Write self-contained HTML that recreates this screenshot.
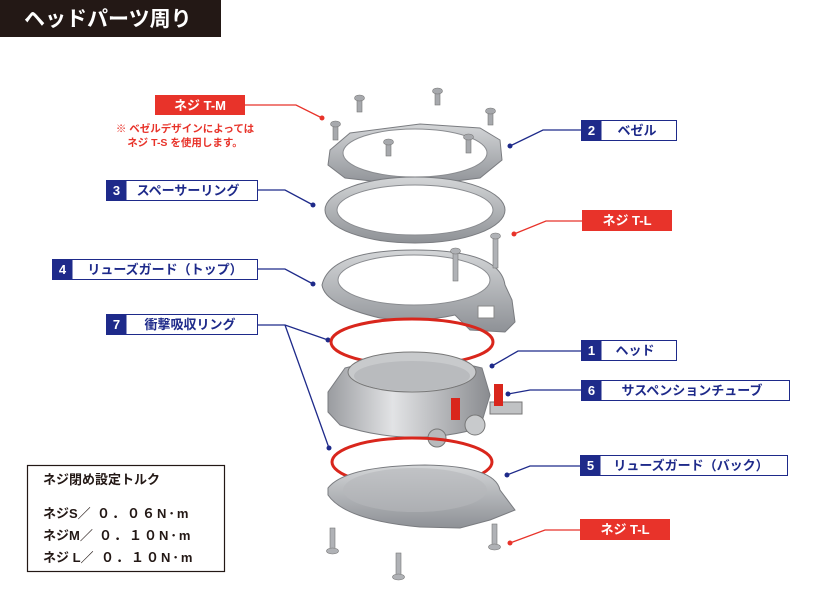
<!DOCTYPE html>
<html><head><meta charset="utf-8"><style>
html,body{margin:0;padding:0;background:#fff;width:840px;height:600px;overflow:hidden}
svg{display:block}
text{font-family:"Liberation Sans","Noto Sans CJK JP",sans-serif}
</style></head><body>
<svg width="840" height="600" viewBox="0 0 840 600" xmlns="http://www.w3.org/2000/svg">
<defs>
<linearGradient id="m" x1="0" y1="0" x2="0" y2="1"><stop offset="0" stop-color="#d4d6d8"/><stop offset="1" stop-color="#8e9196"/></linearGradient>
<linearGradient id="h" x1="0" y1="0" x2="1" y2="0"><stop offset="0" stop-color="#9a9ca0"/><stop offset="0.4" stop-color="#e2e3e5"/><stop offset="1" stop-color="#8a8c90"/></linearGradient>
</defs>
<rect x="0" y="0" width="221" height="37" fill="#231815"/>
<text x="24" y="26" font-size="21" font-weight="bold" fill="#fff">ヘッドパーツ周り</text>

<g fill="none" stroke-width="1.3">
<polyline stroke="#e8332a" points="245,105 296,105 322,118"/>
<polyline stroke="#1e2a8a" points="581,130 543,130 510,146"/>
<polyline stroke="#e8332a" points="582,221 546,221 514,234"/>
<polyline stroke="#1e2a8a" points="258,190 285,190 313,205"/>
<polyline stroke="#1e2a8a" points="258,269 285,269 313,284"/>
<polyline stroke="#1e2a8a" points="258,325 285,325 328,340"/>
<polyline stroke="#1e2a8a" points="285,325 329,448"/>
<polyline stroke="#1e2a8a" points="581,351 518,351 492,366"/>
<polyline stroke="#1e2a8a" points="581,390 530,390 508,394"/>
<polyline stroke="#1e2a8a" points="580,466 530,466 507,475"/>
<polyline stroke="#e8332a" points="580,530 545,530 510,543"/>
</g>
<g>
<circle cx="322" cy="118" r="2.5" fill="#e8332a"/>
<circle cx="510" cy="146" r="2.5" fill="#1e2a8a"/>
<circle cx="514" cy="234" r="2.5" fill="#e8332a"/>
<circle cx="313" cy="205" r="2.5" fill="#1e2a8a"/>
<circle cx="313" cy="284" r="2.5" fill="#1e2a8a"/>
<circle cx="328" cy="340" r="2.5" fill="#1e2a8a"/>
<circle cx="329" cy="448" r="2.5" fill="#1e2a8a"/>
<circle cx="492" cy="366" r="2.5" fill="#1e2a8a"/>
<circle cx="508" cy="394" r="2.5" fill="#1e2a8a"/>
<circle cx="507" cy="475" r="2.5" fill="#1e2a8a"/>
<circle cx="510" cy="543" r="2.5" fill="#e8332a"/>
</g>

<g fill="#a7a9ad" stroke="#777" stroke-width="0.6">
<rect x="357" y="100" width="5" height="12"/><ellipse cx="359.5" cy="98" rx="5" ry="3"/>
<rect x="435" y="93" width="5" height="12"/><ellipse cx="437.5" cy="91" rx="5" ry="3"/>
<rect x="488" y="113" width="5" height="12"/><ellipse cx="490.5" cy="111" rx="5" ry="3"/>
<rect x="333" y="126" width="5" height="14"/><ellipse cx="335.5" cy="124" rx="5" ry="3"/>
</g>
<path d="M330,150 L350,133 L420,124 L480,128 L500,140 L502,160 L480,178 L415,186 L345,178 L328,165 Z" fill="url(#m)" stroke="#7a7c80"/>
<ellipse cx="415" cy="153" rx="72" ry="24" fill="#fff" stroke="#8a8c90"/>
<g fill="#a7a9ad" stroke="#777" stroke-width="0.6">
<rect x="386" y="144" width="5" height="12"/><ellipse cx="388.5" cy="142" rx="5" ry="3"/>
<rect x="466" y="139" width="5" height="14"/><ellipse cx="468.5" cy="137" rx="5" ry="3"/>
</g>
<ellipse cx="415" cy="210" rx="90" ry="33" fill="url(#m)" stroke="#7a7c80"/>
<ellipse cx="415" cy="210" rx="78" ry="25" fill="#fff" stroke="#8a8c90"/>
<path d="M322,285 Q330,250 415,250 Q500,250 505,285 L512,300 L515,322 L505,332 L470,330 L455,315 Q420,323 380,318 Q325,305 322,285 Z" fill="url(#m)" stroke="#7a7c80"/>
<ellipse cx="414" cy="280" rx="76" ry="25" fill="#fff" stroke="#8a8c90"/>
<rect x="478" y="306" width="16" height="12" fill="#fff" stroke="#888"/>
<g fill="#b0b2b6" stroke="#777" stroke-width="0.6">
<rect x="453" y="253" width="5" height="28"/><ellipse cx="455.5" cy="251" rx="5" ry="3"/>
<rect x="493" y="238" width="5" height="30"/><ellipse cx="495.5" cy="236" rx="5" ry="3"/>
</g>
<ellipse cx="412" cy="342" rx="81" ry="23" fill="none" stroke="#d9261c" stroke-width="3"/>
<path d="M328,392 L345,368 Q410,350 482,368 L490,395 L480,428 Q410,448 340,425 L328,412 Z" fill="url(#h)" stroke="#7a7c80"/>
<ellipse cx="412" cy="372" rx="64" ry="20" fill="#c8cacc" stroke="#777"/>
<ellipse cx="412" cy="376" rx="58" ry="15" fill="#b9bbbe"/>
<circle cx="437" cy="438" r="9" fill="#b8babc" stroke="#777"/>
<circle cx="475" cy="425" r="10" fill="#c8cacc" stroke="#777"/>
<rect x="490" y="402" width="32" height="12" fill="#c0c2c4" stroke="#777"/>
<rect x="451" y="398" width="9" height="22" fill="#d9261c"/>
<rect x="494" y="384" width="9" height="22" fill="#d9261c"/>
<ellipse cx="412" cy="462" rx="80" ry="24" fill="none" stroke="#d9261c" stroke-width="3"/>
<path d="M328,488 Q345,466 425,465 Q495,466 500,490 L515,510 L490,520 L460,528 L420,527 Q345,520 328,495 Z" fill="url(#m)" stroke="#7a7c80"/>
<ellipse cx="415" cy="490" rx="72" ry="22" fill="#b6b8bb" opacity="0.6"/>
<g fill="#b0b2b6" stroke="#777" stroke-width="0.6">
<rect x="330" y="528" width="5" height="22"/><ellipse cx="332.5" cy="551" rx="6" ry="3"/>
<rect x="396" y="553" width="5" height="22"/><ellipse cx="398.5" cy="577" rx="6" ry="3"/>
<rect x="492" y="524" width="5" height="22"/><ellipse cx="494.5" cy="547" rx="6" ry="3"/>
</g>

<g font-weight="bold" font-size="13">
<rect x="155" y="95" width="90" height="20" fill="#e8332a"/>
<text x="200" y="110" fill="#fff" text-anchor="middle">ネジ T-M</text>
<rect x="582" y="210" width="90" height="21" fill="#e8332a"/>
<text x="627" y="225" fill="#fff" text-anchor="middle">ネジ T-L</text>
<rect x="580" y="519" width="90" height="21" fill="#e8332a"/>
<text x="625" y="534" fill="#fff" text-anchor="middle">ネジ T-L</text>
</g>
<g font-weight="bold" font-size="10.5" fill="#e8332a" text-anchor="middle">
<text x="185" y="132">※ ベゼルデザインによっては</text>
<text x="185" y="146">ネジ T-S を使用します。</text>
</g>

<g font-weight="bold" font-size="13">
<g><rect x="581.5" y="120.5" width="95" height="20" fill="#fff" stroke="#1e2a8a"/><rect x="581.5" y="120.5" width="20" height="20" fill="#1e2a8a"/><text x="591.5" y="135" fill="#fff" text-anchor="middle">2</text><text x="637" y="135" fill="#1e2a8a" text-anchor="middle">ベゼル</text></g>
<g><rect x="106.5" y="180.5" width="151" height="20" fill="#fff" stroke="#1e2a8a"/><rect x="106.5" y="180.5" width="20" height="20" fill="#1e2a8a"/><text x="116.5" y="195" fill="#fff" text-anchor="middle">3</text><text x="188" y="195" fill="#1e2a8a" text-anchor="middle">スペーサーリング</text></g>
<g><rect x="52.5" y="259.5" width="205" height="20" fill="#fff" stroke="#1e2a8a"/><rect x="52.5" y="259.5" width="20" height="20" fill="#1e2a8a"/><text x="62.5" y="274" fill="#fff" text-anchor="middle">4</text><text x="165" y="274" fill="#1e2a8a" text-anchor="middle">リューズガード（トップ）</text></g>
<g><rect x="106.5" y="314.5" width="151" height="20" fill="#fff" stroke="#1e2a8a"/><rect x="106.5" y="314.5" width="20" height="20" fill="#1e2a8a"/><text x="116.5" y="329" fill="#fff" text-anchor="middle">7</text><text x="190" y="329" fill="#1e2a8a" text-anchor="middle">衝撃吸収リング</text></g>
<g><rect x="581.5" y="340.5" width="95" height="20" fill="#fff" stroke="#1e2a8a"/><rect x="581.5" y="340.5" width="20" height="20" fill="#1e2a8a"/><text x="591.5" y="355" fill="#fff" text-anchor="middle">1</text><text x="635" y="355" fill="#1e2a8a" text-anchor="middle">ヘッド</text></g>
<g><rect x="581.5" y="380.5" width="208" height="20" fill="#fff" stroke="#1e2a8a"/><rect x="581.5" y="380.5" width="20" height="20" fill="#1e2a8a"/><text x="591.5" y="395" fill="#fff" text-anchor="middle">6</text><text x="692" y="395" fill="#1e2a8a" text-anchor="middle">サスペンションチューブ</text></g>
<g><rect x="580.5" y="455.5" width="207" height="20" fill="#fff" stroke="#1e2a8a"/><rect x="580.5" y="455.5" width="20" height="20" fill="#1e2a8a"/><text x="590.5" y="470" fill="#fff" text-anchor="middle">5</text><text x="691" y="470" fill="#1e2a8a" text-anchor="middle">リューズガード（バック）</text></g>
</g>

<rect x="27.5" y="465.5" width="197" height="106" fill="#fff" stroke="#231815" stroke-width="1.2"/>
<g font-size="13" fill="#231815" font-weight="bold">
<text x="43" y="484">ネジ閉め設定トルク</text>
<text x="43" y="518">ネジS／</text><text x="97" y="518" letter-spacing="2">０．０６N･m</text>
<text x="43" y="540">ネジM／</text><text x="99" y="540" letter-spacing="2">０．１０N･m</text>
<text x="43" y="562">ネジ L／</text><text x="101" y="562" letter-spacing="2">０．１０N･m</text>
</g>
</svg>
</body></html>
